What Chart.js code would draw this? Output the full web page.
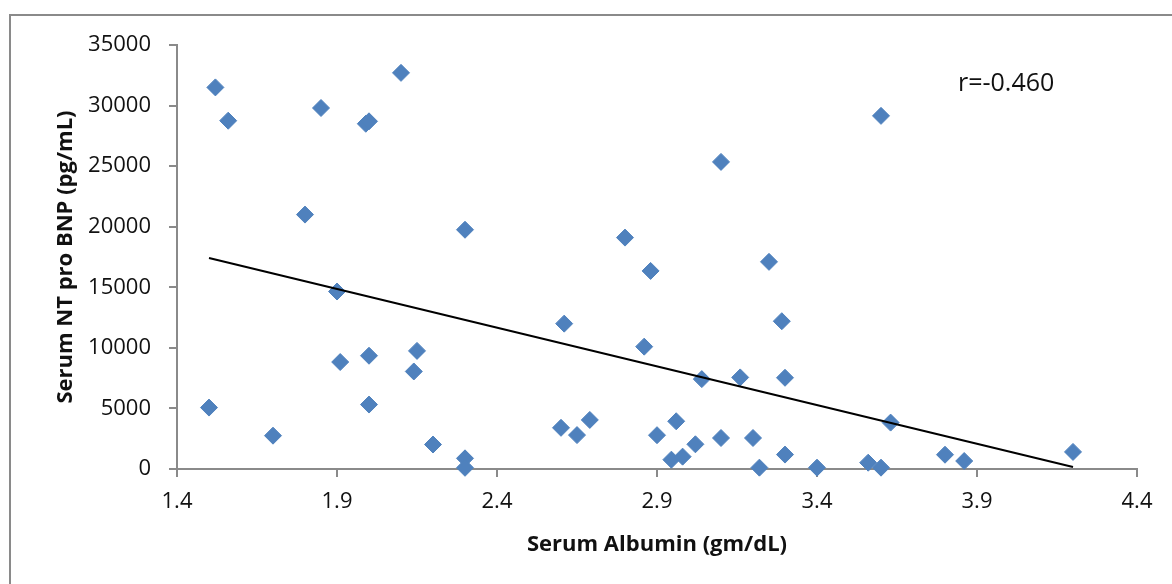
<!DOCTYPE html>
<html>
<head>
<meta charset="utf-8">
<script src="https://cdn.jsdelivr.net/npm/chart.js@4.4.1/dist/chart.umd.min.js"></script>
<style>
  html, body { margin: 0; padding: 0; background: #fff; overflow: hidden; }
  #wrap { position: relative; width: 1172px; height: 584px; }
  #frame { position: absolute; left: 9px; top: 14px; width: 1200px; height: 600px; border: 2px solid #8a8a8a; box-sizing: border-box; }
  #albuminChart { position: absolute; left: 0; top: 0; }
</style>
</head>
<body>
<div id="wrap">
  <div id="frame"></div>
  <canvas id="albuminChart" width="1172" height="584"></canvas>
</div>
<script>
  // serum albumin (gm/dL) vs serum NT pro BNP (pg/mL)
  const albumin = [
    1.52, 1.56, 1.85, 1.99, 2.00, 2.10, 1.80, 2.30, 1.90, 2.61,
    1.91, 2.00, 2.15, 2.14, 2.00, 1.50, 1.70, 2.20, 2.30, 2.30,
    2.60, 2.65, 2.69, 3.60, 3.10, 2.80, 2.88, 3.25, 3.29, 2.86,
    3.04, 3.16, 3.30, 2.90, 2.96, 2.945, 2.98, 3.02, 3.10, 3.20,
    3.22, 3.30, 3.40, 3.56, 3.60, 3.63, 3.80, 3.86, 4.20
  ];
  const ntProBnp = [
    31500, 28750, 29800, 28500, 28700, 32700, 21000, 19750, 14650, 12000,
    8830, 9350, 9750, 8050, 5320, 5070, 2750, 2020, 880, 100,
    3400, 2800, 4050, 29150, 25350, 19100, 16350, 17100, 12200, 10100,
    7420, 7560, 7530, 2790, 3940, 770, 1020, 2040, 2560, 2560,
    110, 1190, 110, 520, 110, 3830, 1180, 660, 1410
  ];
  const trendX = [1.5, 4.2];
  const trendY = [17420, 170];
  const xTicks = [1.4, 1.9, 2.4, 2.9, 3.4, 3.9, 4.4];
  const yTicks = [0, 5000, 10000, 15000, 20000, 25000, 30000, 35000];
  const rLabel = "r=-0.460";

  const FONT = "'Open Sans', 'Noto Sans', sans-serif";
  const AXIS_GRAY = "#8a8a8a";

  const rText = {
    id: "rText",
    afterDraw(chart) {
      const ctx = chart.ctx;
      ctx.save();
      ctx.font = `25px ${FONT}`;
      ctx.fillStyle = "#111";
      ctx.textAlign = "left";
      ctx.textBaseline = "middle";
      ctx.fillText(rLabel, chart.chartArea.right - 179, 84);
      ctx.restore();
    }
  };

  new Chart(document.getElementById("albuminChart"), {
    type: "scatter",
    data: {
      datasets: [
        {
          label: "NT pro BNP",
          data: albumin.map((x, i) => ({ x, y: ntProBnp[i] })),
          pointStyle: "rectRot",
          pointRadius: 8.5,
          pointBorderWidth: 1,
          backgroundColor: "#4f81bd",
          borderColor: "#4f81bd",
          clip: false,
          order: 2
        },
        {
          type: "line",
          label: "Trend",
          data: trendX.map((x, i) => ({ x, y: trendY[i] })),
          borderColor: "#000",
          borderWidth: 2,
          pointRadius: 0,
          fill: false,
          clip: false,
          order: 1
        }
      ]
    },
    options: {
      responsive: false,
      animation: false,
      devicePixelRatio: 1,
      layout: { padding: { top: 45, right: 35, left: 0, bottom: 0 } },
      plugins: { legend: { display: false }, tooltip: { enabled: false } },
      scales: {
        x: {
          type: "linear",
          min: 1.4,
          max: 4.4,
          afterBuildTicks: s => { s.ticks = xTicks.map(v => ({ value: v })); },
          afterFit: s => { s.height = 115; },
          grid: { drawOnChartArea: false, drawTicks: true, tickLength: 8, color: AXIS_GRAY, lineWidth: 2 },
          border: { display: true, color: AXIS_GRAY, width: 2 },
          ticks: {
            font: { family: FONT, size: 22 },
            color: "#111",
            padding: 12,
            maxRotation: 0,
            callback: v => Number(v).toFixed(1)
          },
          title: {
            display: true,
            text: "Serum Albumin (gm/dL)",
            font: { family: FONT, size: 22, weight: "bold" },
            color: "#111",
            padding: { top: 0, bottom: 26 }
          }
        },
        y: {
          min: 0,
          max: 35000,
          afterBuildTicks: s => { s.ticks = yTicks.map(v => ({ value: v })); },
          afterFit: s => { s.width = 177; },
          grid: { drawOnChartArea: false, drawTicks: true, tickLength: 8, color: AXIS_GRAY, lineWidth: 2 },
          border: { display: true, color: AXIS_GRAY, width: 2 },
          ticks: {
            font: { family: FONT, size: 22 },
            color: "#111",
            padding: 18,
            callback: v => String(v)
          },
          title: {
            display: true,
            text: "Serum NT pro BNP (pg/mL)",
            font: { family: FONT, size: 22, weight: "bold" },
            color: "#111",
            padding: { top: 53, bottom: 0 }
          }
        }
      }
    },
    plugins: [rText]
  });
</script>
</body>
</html>
